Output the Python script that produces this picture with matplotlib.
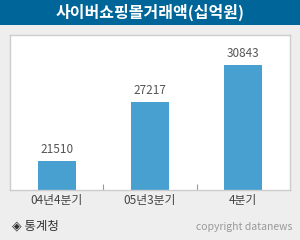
import matplotlib
matplotlib.use("Agg")
import matplotlib.pyplot as plt
from matplotlib.patches import Rectangle

plt.rcParams['font.family'] = ['Noto Sans CJK KR', 'DejaVu Sans']

# data
categories = ['04년4분기', '05년3분기', '4분기']
values = [21510, 27217, 30843]
title = '사이버쇼핑몰거래액(십억원)'
source = '◈ 통계청'
credit = 'copyright datanews'

fig = plt.figure(figsize=(3, 2.4), dpi=100)
fig.patch.set_facecolor('#eeeeee')

# title bar
fig.patches.append(Rectangle((0, 1 - 25 / 240), 1, 25 / 240, transform=fig.transFigure,
                             facecolor='#006699', edgecolor='none', zorder=0))
fig.text(0.5, 1 - 12.5 / 240, title, color='white', fontsize=11.5, fontweight='bold',
         ha='center', va='center')

# plot area
ax = fig.add_axes([10 / 300, 1 - 190 / 240, 280 / 300, 155 / 240])
ax.set_facecolor('white')
x = range(len(categories))
ax.bar(x, values, width=0.41, color='#48a0d0', zorder=2)
ax.set_xlim(-0.5, 2.5)
ax.set_ylim(18700, 33700)
for i, v in zip(x, values):
    ax.text(i, v + 450, str(v), ha='center', va='bottom', fontsize=8.5, color='#555555')

for s in ax.spines.values():
    s.set_color('#cccccc')
    s.set_linewidth(1)
ax.set_yticks([])
ax.set_xticks([0.5, 1.5], minor=False)
ax.set_xticklabels([])
ax.tick_params(axis='x', direction='in', length=4, color='#999999', width=0.8)
for i, c in zip(x, categories):
    ax.text(i, -0.065, c, transform=ax.get_xaxis_transform(), ha='center', va='center',
            fontsize=8.5, color='#444444')

fig.text(12 / 300, 1 - 226 / 240, source, fontsize=9, color='#333333', ha='left', va='center')
fig.text(292 / 300, 1 - 227 / 240, credit, fontsize=7.5, color='#999999', ha='right', va='center')

fig.savefig('out.png', dpi=100, facecolor=fig.get_facecolor())
